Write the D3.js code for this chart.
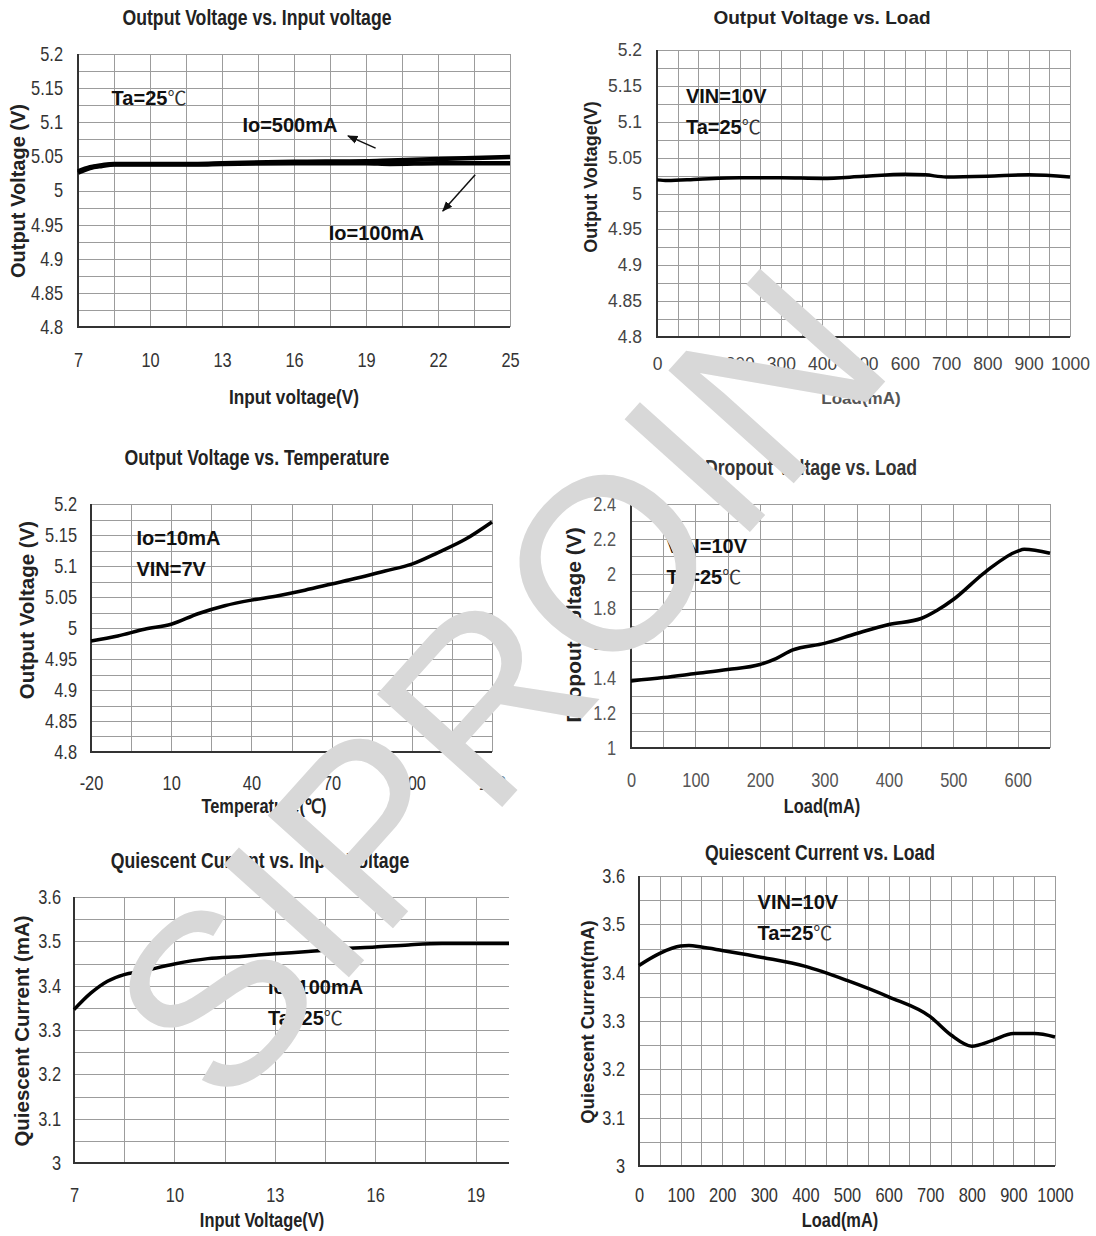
<!DOCTYPE html>
<html>
<head>
<meta charset="utf-8">
<script src="https://cdn.jsdelivr.net/npm/d3@7"></script>
<style>
  body { margin: 0; background: #fff; }
  svg { display: block; }
</style>
</head>
<body>
<svg id="chart"></svg>
<script>
// ---- data ----

// Output Voltage vs. Input voltage
let vinX = [7, 7.5, 8, 8.5, 10, 12, 13, 16, 19, 20, 22, 25]
let vout500 = [5.028, 5.034, 5.037, 5.039, 5.039, 5.039, 5.040, 5.042, 5.043, 5.044, 5.046, 5.049]
let vout100 = [5.026, 5.033, 5.036, 5.038, 5.038, 5.038, 5.039, 5.040, 5.040, 5.039, 5.040, 5.040]
let vinTicks = [7, 10, 13, 16, 19, 22, 25]
let voutTicks = [4.8, 4.85, 4.9, 4.95, 5, 5.05, 5.1, 5.15, 5.2]

// Output Voltage vs. Load
let loadX = [0, 25, 100, 200, 300, 400, 500, 600, 650, 700, 800, 900, 1000]
let voutLoad = [5.019, 5.018, 5.020, 5.022, 5.022, 5.021, 5.024, 5.027, 5.026, 5.023, 5.024, 5.026, 5.023]
let loadTicks = [0, 100, 200, 300, 400, 500, 600, 700, 800, 900, 1000]

// Output Voltage vs. Temperature
let tempX = [-20, -10, 0, 10, 20, 30, 40, 50, 60, 70, 80, 90, 100, 110, 120, 130]
let voutTemp = [4.979, 4.987, 4.998, 5.006, 5.023, 5.036, 5.045, 5.052, 5.061, 5.071, 5.081, 5.092, 5.103, 5.122, 5.143, 5.171]
let tempTicks = [-20, 10, 40, 70, 100, 130]

// Dropout Voltage vs. Load
let dropX = [0, 50, 100, 150, 200, 225, 250, 300, 350, 400, 450, 475, 500, 550, 600, 610, 650]
let dropV = [1.385, 1.404, 1.427, 1.45, 1.479, 1.513, 1.561, 1.6, 1.657, 1.709, 1.743, 1.79, 1.852, 2.011, 2.13, 2.14, 2.117]
let dropXTicks = [0, 100, 200, 300, 400, 500, 600]
let dropYTicks = [1, 1.2, 1.4, 1.6, 1.8, 2, 2.2, 2.4]

// Quiescent Current vs. Input Voltage
let iqVinX = [7, 7.5, 8, 8.5, 9, 10, 11, 12, 13, 14, 15, 16, 17, 18, 19, 20]
let iqVin = [3.346, 3.383, 3.410, 3.425, 3.432, 3.449, 3.461, 3.466, 3.472, 3.477, 3.483, 3.487, 3.492, 3.495, 3.495, 3.495]
let iqVinTicks = [7, 10, 13, 16, 19]
let iqTicks = [3, 3.1, 3.2, 3.3, 3.4, 3.5, 3.6]

// Quiescent Current vs. Load
let iqLoadX = [0, 50, 100, 120, 150, 200, 300, 400, 500, 600, 700, 750, 800, 850, 900, 950, 1000]
let iqLoad = [3.415, 3.44, 3.455, 3.456, 3.453, 3.446, 3.431, 3.413, 3.384, 3.35, 3.309, 3.271, 3.248, 3.26, 3.274, 3.274, 3.267]

let svgWidth = 1096
let svgHeight = 1236

let arial = '"Liberation Sans", Arial, sans-serif'
let squeeze = 0.82   // Liberation Sans squeezed to look like Arial Narrow

let svg = d3.select('#chart').attr('width', svgWidth).attr('height', svgHeight)

let panels = [
  {
    box: [78, 510, 54, 327], xDomain: [7, 25], yDomain: [4.8, 5.2], xStep: 1.5, yStep: 0.025,
    xTicks: vinTicks, yTicks: voutTicks, tickNarrow: true, tickSize: 20, tickFill: '#333',
    yTickGap: 15, xTickY: 360,
    title: 'Output Voltage vs. Input voltage', titleX: 257, titleY: 17,
    yLabel: 'Output Voltage (V)', yLabelX: 18, yLabelY: 191, yLabelSize: 20,
    xLabel: 'Input voltage(V)', xLabelX: 294, xLabelY: 397, xLabelNarrow: true, xLabelSize: 21, xLabelFill: '#222',
    series: [{ x: vinX, y: vout500, w: 4.5 }, { x: vinX, y: vout100, w: 4.5 }],
    notes: [
      { x: 8.4, y: 5.136, lines: [['Ta=25', true]] },
      { x: 13.85, y: 5.096, lines: [['Io=500mA', false]] },
      { x: 17.45, y: 4.938, lines: [['Io=100mA', false]] }
    ],
    arrows: [[[19.4, 5.062], [18.25, 5.080]], [[23.55, 5.023], [22.2, 4.970]]]
  },
  {
    box: [657, 1070, 50, 337], xDomain: [0, 1000], yDomain: [4.8, 5.2], xStep: 50, yStep: 0.025,
    xTicks: loadTicks, yTicks: voutTicks, tickNarrow: false, tickSize: 17.5, tickFill: '#444',
    yTickGap: 15, xTickY: 364,
    title: 'Output Voltage vs. Load', titleX: 822, titleY: 17, titleNarrow: false, titleSize: 19,
    yLabel: 'Output Voltage(V)', yLabelX: 591, yLabelY: 177, yLabelSize: 18,
    xLabel: 'Load(mA)', xLabelX: 861, xLabelY: 398, xLabelNarrow: false, xLabelSize: 17, xLabelFill: '#555',
    series: [{ x: loadX, y: voutLoad, w: 3.5 }],
    notes: [{ x: 70, y: 5.136, lines: [['VIN=10V', false], ['Ta=25', true]] }],
    arrows: []
  },
  {
    box: [91, 492, 504, 752], xDomain: [-20, 130], yDomain: [4.8, 5.2], xStep: 15, yStep: 0.025,
    xTicks: tempTicks, yTicks: voutTicks, tickNarrow: true, tickSize: 20, tickFill: '#333',
    yTickGap: 14, xTickY: 783,
    title: 'Output Voltage vs. Temperature', titleX: 257, titleY: 457,
    yLabel: 'Output Voltage (V)', yLabelX: 27, yLabelY: 610, yLabelSize: 20.5,
    xLabel: 'Temperature(℃)', xLabelX: 264, xLabelY: 806, xLabelNarrow: true, xLabelSize: 20, xLabelFill: '#222',
    series: [{ x: tempX, y: voutTemp, w: 3.5 }],
    notes: [{ x: -3, y: 5.145, lines: [['Io=10mA', false], ['VIN=7V', false]] }],
    arrows: []
  },
  {
    box: [631, 1050, 504, 748], xDomain: [0, 650], yDomain: [1, 2.4], xStep: 50, yStep: 0.1,
    xTicks: dropXTicks, yTicks: dropYTicks, tickNarrow: true, tickSize: 20, tickFill: '#555',
    yTickGap: 15, xTickY: 780,
    title: 'Dropout Voltage vs. Load', titleX: 811, titleY: 467, titleFill: '#333',
    yLabel: 'Dropout Voltage (V)', yLabelX: 574, yLabelY: 625, yLabelSize: 21,
    xLabel: 'Load(mA)', xLabelX: 822, xLabelY: 806, xLabelNarrow: true, xLabelSize: 20, xLabelFill: '#222',
    series: [{ x: dropX, y: dropV, w: 3.5 }],
    notes: [{ x: 55, y: 2.16, lines: [['VIN=10V', false], ['Ta=25', true]] }],
    arrows: []
  },
  {
    box: [74, 509, 897, 1163], xDomain: [7, 20], yDomain: [3, 3.6], xStep: 1.5, yStep: 0.05,
    xTicks: iqVinTicks, yTicks: iqTicks, tickNarrow: true, tickSize: 20, tickFill: '#333',
    yTickGap: 13, xTickY: 1195,
    title: 'Quiescent Current vs. Input Voltage', titleX: 260, titleY: 860,
    yLabel: 'Quiescent Current (mA)', yLabelX: 22, yLabelY: 1031, yLabelSize: 20.5,
    xLabel: 'Input Voltage(V)', xLabelX: 262, xLabelY: 1220, xLabelNarrow: true, xLabelSize: 20, xLabelFill: '#222',
    series: [{ x: iqVinX, y: iqVin, w: 3.5 }],
    notes: [{ x: 12.8, y: 3.398, lines: [['Io=100mA', false], ['Ta=25', true]] }],
    arrows: []
  },
  {
    box: [639, 1055, 876, 1166], xDomain: [0, 1000], yDomain: [3, 3.6], xStep: 50, yStep: 0.05,
    xTicks: loadTicks, yTicks: iqTicks, tickNarrow: true, tickSize: 20, tickFill: '#333',
    yTickGap: 14, xTickY: 1195,
    title: 'Quiescent Current vs. Load', titleX: 820, titleY: 852,
    yLabel: 'Quiescent Current(mA)', yLabelX: 588, yLabelY: 1022, yLabelSize: 18.5,
    xLabel: 'Load(mA)', xLabelX: 840, xLabelY: 1220, xLabelNarrow: true, xLabelSize: 20, xLabelFill: '#222',
    series: [{ x: iqLoadX, y: iqLoad, w: 3.5 }],
    notes: [{ x: 285, y: 3.547, lines: [['VIN=10V', false], ['Ta=25', true]] }],
    arrows: []
  }
]

let defs = svg.append('defs')
defs.append('marker')
  .attr('id', 'arrow')
  .attr('viewBox', '0 0 10 10')
  .attr('refX', '9')
  .attr('refY', '5')
  .attr('markerWidth', '7')
  .attr('markerHeight', '7')
  .attr('orient', 'auto')
  .append('path')
  .attr('d', 'M 0 1 L 10 5 L 0 9 z')
  .attr('fill', '#111')

// text placed at x,y, optionally squeezed horizontally
function label(g, x, y, str, size, fill, narrow, anchor) {
  return g.append('g').attr('transform', 'translate(' + x + ',' + y + ')')
    .append('text')
    .attr('transform', narrow ? 'scale(' + squeeze + ',1)' : null)
    .attr('dy', '0.35em').attr('text-anchor', anchor || 'middle')
    .attr('font-family', arial).attr('font-weight', 'bold')
    .attr('font-size', size).attr('fill', fill)
    .text(str)
}

function drawPanel(p) {
  let [x0, x1, y0, y1] = p.box
  let xScale = d3.scaleLinear().domain(p.xDomain).range([x0, x1])
  let yScale = d3.scaleLinear().domain(p.yDomain).range([y1, y0])
  let g = svg.append('g')

  // grid (only lines that fall inside the domain)
  let nx = Math.floor((p.xDomain[1] - p.xDomain[0]) / p.xStep + 1e-6)
  let ny = Math.floor((p.yDomain[1] - p.yDomain[0]) / p.yStep + 1e-6)
  let gx = d3.range(nx + 1).map(i => p.xDomain[0] + i * p.xStep)
  let gy = d3.range(ny + 1).map(i => p.yDomain[0] + i * p.yStep)

  g.selectAll('.vgrid').data(gx).enter().append('line')
    .attr('x1', d => Math.round(xScale(d)) + 0.5).attr('x2', d => Math.round(xScale(d)) + 0.5)
    .attr('y1', y0).attr('y2', y1)
    .attr('stroke', '#9c9c9c').attr('stroke-width', 1)
  g.selectAll('.hgrid').data(gy).enter().append('line')
    .attr('y1', d => Math.round(yScale(d)) + 0.5).attr('y2', d => Math.round(yScale(d)) + 0.5)
    .attr('x1', x0).attr('x2', x1)
    .attr('stroke', '#9c9c9c').attr('stroke-width', 1)

  // dark left and bottom axis lines
  g.append('line').attr('x1', x0).attr('x2', x0).attr('y1', y0).attr('y2', y1 + 1)
    .attr('stroke', '#333').attr('stroke-width', 2)
  g.append('line').attr('x1', x0 - 1).attr('x2', x1).attr('y1', y1).attr('y2', y1)
    .attr('stroke', '#333').attr('stroke-width', 2)

  // tick labels through d3 axes
  let sx = p.tickNarrow ? squeeze : 1
  let yAxis = d3.axisLeft(yScale).tickValues(p.yTicks).tickSize(0).tickPadding(p.yTickGap).tickFormat(d => String(d))
  let ya = g.append('g').attr('transform', 'translate(' + x0 + ',0)').call(yAxis)
  ya.select('.domain').remove()
  ya.selectAll('text')
    .attr('x', -p.yTickGap / sx)
    .attr('transform', 'scale(' + sx + ',1)')
    .attr('font-family', arial).attr('font-size', p.tickSize).attr('fill', p.tickFill)

  let xAxis = d3.axisBottom(xScale).tickValues(p.xTicks).tickSize(0).tickPadding(0).tickFormat(d => String(d))
  let xa = g.append('g').attr('transform', 'translate(0,' + p.xTickY + ')').call(xAxis)
  xa.select('.domain').remove()
  xa.selectAll('text').attr('y', 0).attr('dy', '0.35em')
    .attr('transform', 'scale(' + sx + ',1)')
    .attr('font-family', arial).attr('font-size', p.tickSize).attr('fill', p.tickFill)

  // titles
  label(g, p.titleX, p.titleY, p.title, p.titleSize || 21.5, p.titleFill || '#222', p.titleNarrow !== false)
  label(g, p.xLabelX, p.xLabelY, p.xLabel, p.xLabelSize, p.xLabelFill, p.xLabelNarrow)

  g.append('text').attr('transform', 'translate(' + p.yLabelX + ',' + p.yLabelY + ') rotate(-90)')
    .attr('dy', '0.35em').attr('text-anchor', 'middle')
    .attr('font-family', arial).attr('font-weight', 'bold').attr('font-size', p.yLabelSize).attr('fill', '#222')
    .text(p.yLabel)

  // curves
  let line = d3.line().curve(d3.curveMonotoneX)
  p.series.forEach(function(s) {
    g.append('path')
      .datum(s.x.map((v, i) => [v, s.y[i]]))
      .attr('d', line.x(d => xScale(d[0])).y(d => yScale(d[1])))
      .attr('fill', 'none').attr('stroke', '#000').attr('stroke-width', s.w)
      .attr('stroke-linejoin', 'round')
  })

  // condition notes
  p.notes.forEach(function(n) {
    n.lines.forEach(function(l, i) {
      let t = g.append('text')
        .attr('x', xScale(n.x)).attr('y', yScale(n.y) + i * 31).attr('dy', '0.35em')
        .attr('font-family', arial).attr('font-weight', 'bold').attr('font-size', 20).attr('fill', '#111')
      t.append('tspan').text(l[0])
      if (l[1]) {
        t.append('tspan').attr('font-weight', 'normal').attr('font-family', '"Noto Sans CJK SC", sans-serif')
          .attr('font-size', 19).attr('fill', '#333').text('℃')
      }
    })
  })

  p.arrows.forEach(function(a) {
    g.append('line')
      .attr('x1', xScale(a[0][0])).attr('y1', yScale(a[0][1]))
      .attr('x2', xScale(a[1][0])).attr('y2', yScale(a[1][1]))
      .attr('stroke', '#111').attr('stroke-width', 1.5)
      .attr('marker-end', 'url(#arrow)')
  })
}

panels.forEach(drawPanel)

// watermark on top of everything
svg.append('text')
  .attr('transform', 'translate(496,682) rotate(-48)')
  .attr('text-anchor', 'middle').attr('dy', '0.36em')
  .attr('font-family', arial).attr('font-size', 245)
  .attr('fill', '#d8d8d8')
  .text('SIPROIN')
</script>
</body>
</html>
